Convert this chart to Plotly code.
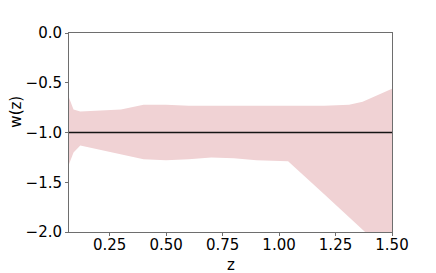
import plotly.graph_objs as go

# redshift grid and band edges
z = [0.07, 0.09, 0.12, 0.20, 0.30, 0.40, 0.50, 0.60, 0.70, 0.80, 0.90, 1.04, 1.20, 1.31, 1.37, 1.50]
w_upper = [-0.65, -0.77, -0.79, -0.78, -0.77, -0.72, -0.72, -0.73, -0.73, -0.73, -0.73, -0.73, -0.73, -0.72, -0.69, -0.56]
w_lower = [-1.32, -1.20, -1.13, -1.17, -1.22, -1.27, -1.28, -1.27, -1.25, -1.26, -1.28, -1.29, -1.62, -1.85, -1.97, -2.25]
w_mean = [-1.0, -1.0, -1.0, -1.0, -1.0, -1.0, -1.0, -1.0, -1.0, -1.0, -1.0, -1.0, -1.0, -1.0, -1.0, -1.0]

yticks = [0.0, -0.5, -1.0, -1.5, -2.0]
yticklabels = ["0.0", "\u22120.5", "\u22121.0", "\u22121.5", "\u22122.0"]
xticks = [0.25, 0.5, 0.75, 1.0, 1.25, 1.5]
xticklabels = ["0.25", "0.50", "0.75", "1.00", "1.25", "1.50"]

fig = go.Figure()
fig.add_trace(go.Scatter(x=z, y=w_upper, mode="lines", line=dict(width=0),
                         showlegend=False, hoverinfo="skip"))
fig.add_trace(go.Scatter(x=z, y=w_lower, mode="lines", line=dict(width=0),
                         fill="tonexty", fillcolor="rgb(240,210,212)",
                         showlegend=False, hoverinfo="skip"))
fig.add_trace(go.Scatter(x=z, y=w_mean, mode="lines",
                         line=dict(color="rgb(20,20,20)", width=1.4),
                         showlegend=False))

# page body has an 8px margin, so the figure is shrunk by that much
fig.update_layout(
    width=428, height=265,
    margin=dict(l=61, r=44, t=25, b=41, autoexpand=False),
    plot_bgcolor="white", paper_bgcolor="white",
    font=dict(family="DejaVu Sans", size=15, color="black"),
)
fig.update_xaxes(range=[0.07, 1.5], tickvals=xticks, ticktext=xticklabels,
                 showgrid=False, zeroline=False, showline=True, mirror=True,
                 linecolor="rgb(110,110,110)", linewidth=1,
                 ticks="outside", ticklen=3, tickcolor="rgb(110,110,110)",
                 automargin=False, tickfont=dict(size=15),
                 ticklabelstandoff=-4)
fig.update_yaxes(range=[-2.0, 0.0], tickvals=yticks, ticktext=yticklabels,
                 showgrid=False, zeroline=False, showline=True, mirror=True,
                 linecolor="rgb(110,110,110)", linewidth=1,
                 ticks="outside", ticklen=3, tickcolor="rgb(110,110,110)",
                 automargin=False, tickfont=dict(size=15))

# axis titles placed as in the reference
fig.add_annotation(text="z", xref="paper", yref="paper", x=0.5, y=-0.165,
                   showarrow=False, font=dict(size=15), yanchor="middle")
fig.add_annotation(text="w(z)", xref="paper", yref="paper", x=-0.164, y=0.605,
                   showarrow=False, font=dict(size=15), textangle=-90,
                   xanchor="center", yanchor="middle")

fig.write_html("out.html")
